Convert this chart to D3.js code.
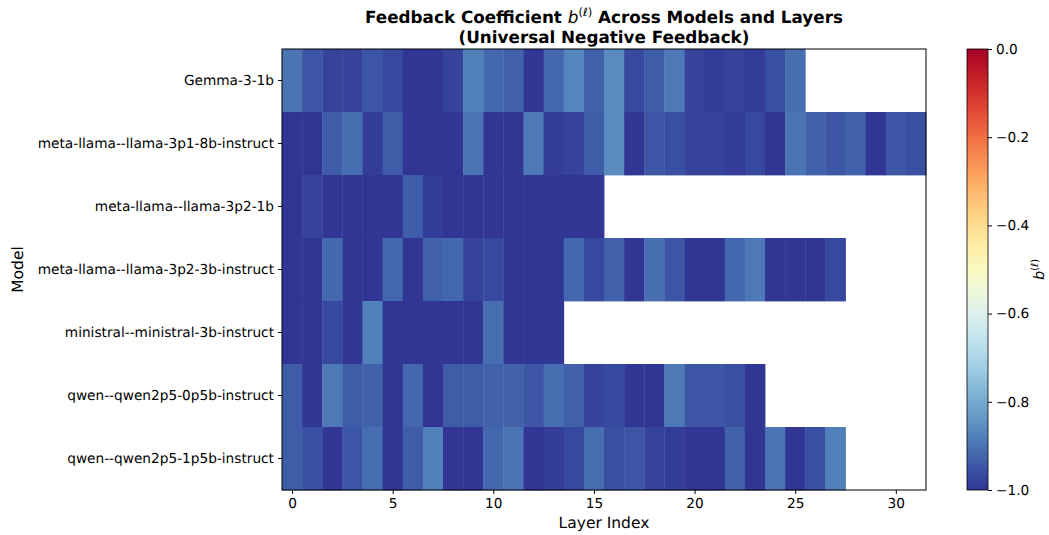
<!DOCTYPE html>
<html lang="en">
<head>
<meta charset="UTF-8">
<title>Feedback Coefficient heatmap</title>
<script src="https://d3js.org/d3.v7.min.js"></script>
<style>
body{margin:0;background:#fff}
svg{display:block;font-family:"DejaVu Sans",sans-serif;text-rendering:geometricPrecision}
.tick text{font-size:13.7px;fill:#000;font-family:"DejaVu Sans",sans-serif}
.tick line{stroke:#000}
.domain{display:none}
</style>
</head>
<body>
<svg id="chart" width="1049" height="535"></svg>
<script>
// model names, top to bottom
const models = [
  'Gemma-3-1b',
  'meta-llama--llama-3p1-8b-instruct',
  'meta-llama--llama-3p2-1b',
  'meta-llama--llama-3p2-3b-instruct',
  'ministral--ministral-3b-instruct',
  'qwen--qwen2p5-0p5b-instruct',
  'qwen--qwen2p5-1p5b-instruct'
];

// b per layer (rows have different depth)
const gemma = [-0.90,-0.95,-0.98,-0.98,-0.95,-0.97,-1.0,-1.0,-0.98,-0.88,-0.92,-0.93,-1.0,-0.92,-0.87,-0.93,
  -0.86,-0.97,-0.94,-0.89,-0.98,-0.99,-0.98,-0.99,-0.96,-0.91];
const llama8b = [-1.0,-1.0,-0.94,-0.91,-0.99,-0.94,-1.0,-1.0,-1.0,-0.90,-1.0,-1.0,-0.89,-0.99,-0.98,-0.94,
  -0.86,-1.0,-0.95,-0.96,-0.98,-0.98,-0.99,-0.97,-1.0,-0.90,-0.93,-0.95,-0.93,-1.0,-0.95,-0.96];
const llama1b = [-1.0,-0.98,-1.0,-1.0,-1.0,-1.0,-0.94,-0.99,-1.0,-1.0,-1.0,-1.0,-1.0,-1.0,-1.0,-1.0];
const llama3b = [-1.0,-1.0,-0.92,-1.0,-1.0,-0.92,-1.0,-0.93,-0.92,-0.98,-0.97,-1.0,-1.0,-1.0,-0.92,-0.97,
  -0.93,-1.0,-0.91,-0.95,-1.0,-1.0,-0.92,-0.89,-1.0,-1.0,-1.0,-0.97];
const ministral = [-1.0,-1.0,-0.97,-1.0,-0.88,-1.0,-1.0,-1.0,-1.0,-1.0,-0.91,-1.0,-1.0,-1.0];
const qwen05 = [-0.94,-1.0,-0.89,-0.94,-0.93,-1.0,-0.92,-1.0,-0.94,-0.94,-0.93,-0.93,-0.95,-0.91,-0.93,-0.98,
  -0.97,-1.0,-1.0,-0.89,-0.95,-0.95,-0.96,-1.0];
const qwen15 = [-0.94,-0.96,-1.0,-0.95,-0.91,-1.0,-0.94,-0.88,-1.0,-1.0,-0.92,-0.90,-1.0,-0.99,-0.97,-0.91,
  -0.96,-0.95,-0.98,-0.99,-1.0,-1.0,-0.93,-1.0,-0.90,-1.0,-0.96,-0.88];

const rows = [gemma, llama8b, llama1b, llama3b, ministral, qwen05, qwen15];
const xTicks = [0, 5, 10, 15, 20, 25, 30];
const cbTicks = [0.0, -0.2, -0.4, -0.6, -0.8, -1.0];
const nLayers = 32;

const svg = d3.select('#chart');
const plot = { left: 282, right: 926, top: 49, bottom: 490 };

const x = d3.scaleLinear().domain([-0.5, nLayers - 0.5]).range([plot.left, plot.right]);
const y = d3.scaleBand().domain(models).range([plot.top, plot.bottom]);
// RdYlBu, vmin -1 (blue) .. vmax 0 (red)
const color = v => d3.interpolateRdYlBu(-v);

const cells = [];
rows.forEach((vals, r) => vals.forEach((v, l) => cells.push({ model: models[r], layer: l, v: v })));

svg.append('g').selectAll('rect').data(cells).join('rect')
  .attr('x', d => x(d.layer - 0.5))
  .attr('y', d => y(d.model))
  .attr('width', x(1) - x(0) + 0.4)
  .attr('height', y.bandwidth() + 0.4)
  .attr('fill', d => color(d.v));

svg.append('rect')
  .attr('x', plot.left).attr('y', plot.top)
  .attr('width', plot.right - plot.left).attr('height', plot.bottom - plot.top)
  .attr('fill', 'none').attr('stroke', '#000').attr('stroke-width', 1);

svg.append('g').attr('transform', 'translate(0,' + plot.bottom + ')')
  .call(d3.axisBottom(x).tickValues(xTicks).tickFormat(d3.format('d')).tickSize(4).tickPadding(4));

svg.append('g').attr('transform', 'translate(' + plot.left + ',0)')
  .call(d3.axisLeft(y).tickSize(4).tickPadding(4));

// axis labels
svg.append('text').attr('x', (plot.left + plot.right) / 2).attr('y', 528)
  .attr('text-anchor', 'middle').attr('font-size', 15.5).text('Layer Index');
svg.append('text').attr('transform', 'translate(23,' + (plot.top + plot.bottom) / 2 + ') rotate(-90)')
  .attr('text-anchor', 'middle').attr('font-size', 15.5).text('Model');

// title
const title = svg.append('text').attr('x', (plot.left + plot.right) / 2).attr('y', 23)
  .attr('text-anchor', 'middle').attr('font-size', 16.8).attr('font-weight', 'bold');
title.append('tspan').text('Feedback Coefficient ');
title.append('tspan').attr('font-style', 'italic').attr('font-weight', 'normal').text('b');
title.append('tspan').attr('font-size', 11.5).attr('font-weight', 'normal').attr('dy', -7).text('(ℓ)');
title.append('tspan').attr('dy', 7).text(' Across Models and Layers');
svg.append('text').attr('x', (plot.left + plot.right) / 2).attr('y', 43)
  .attr('text-anchor', 'middle').attr('font-size', 16.8).attr('font-weight', 'bold')
  .text('(Universal Negative Feedback)');

// colorbar
const cb = { x: 967, w: 21 };
const cy = d3.scaleLinear().domain([-1, 0]).range([plot.bottom, plot.top]);
const grad = svg.append('defs').append('linearGradient').attr('id', 'cbgrad')
  .attr('x1', 0).attr('y1', 1).attr('x2', 0).attr('y2', 0);
d3.range(0, 1.0001, 0.05).forEach(t => {
  grad.append('stop').attr('offset', t).attr('stop-color', color(-1 + t));
});
svg.append('rect').attr('x', cb.x).attr('y', plot.top)
  .attr('width', cb.w).attr('height', plot.bottom - plot.top)
  .attr('fill', 'url(#cbgrad)').attr('stroke', '#000').attr('stroke-width', 0.8);
svg.append('g').attr('transform', 'translate(' + (cb.x + cb.w) + ',0)')
  .call(d3.axisRight(cy).tickValues(cbTicks).tickFormat(d => d3.format('.1f')(d).replace('-', '\u2212')).tickSize(4).tickPadding(4));

const cbl = svg.append('text').attr('transform', 'translate(1044,' + (plot.top + plot.bottom) / 2 + ') rotate(-90)')
  .attr('text-anchor', 'middle').attr('font-size', 14.5);
cbl.append('tspan').attr('font-style', 'italic').text('b');
cbl.append('tspan').attr('font-size', 10).attr('dy', -6).text('(ℓ)');
</script>
</body>
</html>
